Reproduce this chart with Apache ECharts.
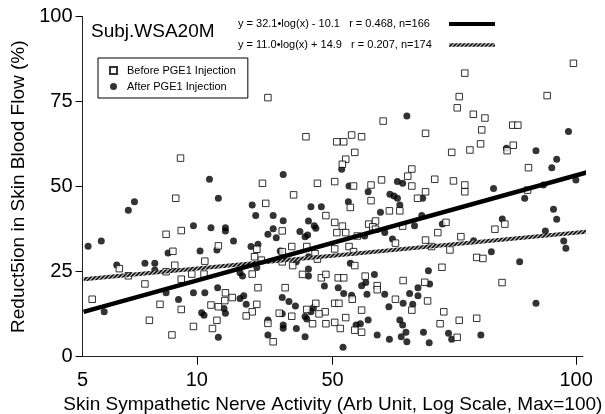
<!DOCTYPE html>
<html>
<head>
<meta charset="utf-8">
<script src="https://cdn.jsdelivr.net/npm/echarts@6/dist/echarts.min.js"></script>
<style>
  html, body { margin: 0; background: #fff; }
  #chart { width: 605px; height: 414px; }
</style>
</head>
<body>
<div id="chart"></div>
<script>
// squares: before PGE1 injection  [nerve activity, reduction %]
const before = [
  [9.06, 58.4], [8.8, 46.6], [9.1, 37.1], [8.3, 36.0], [8.65, 31.0], [8.75, 26.9], [6.25, 25.9], [9.1, 22.8],
  [7.3, 21.4], [5.3, 16.9], [8.0, 15.4], [9.1, 13.9], [7.5, 10.7], [8.6, 6.4], [6.6, 23.8], [8.3, 25.0],
  [15.4, 76.2], [14.9, 51.0], [15.2, 45.1], [11.4, 32.6], [14.4, 31.6], [14.2, 29.4], [14.8, 28.4], [10.5, 28.1],
  [9.7, 24.3], [10.45, 24.3], [14.0, 24.3], [14.5, 20.3], [10.9, 15.2], [11.4, 14.7], [11.9, 18.8], [11.85, 16.5],
  [12.4, 17.4], [14.4, 15.4], [14.0, 13.2], [13.5, 12.0], [11.3, 10.7], [9.8, 8.9], [11.0, 8.3], [15.4, 9.8],
  [15.9, 4.4], [16.5, 12.8],
  [31.0, 69.3], [19.4, 64.7], [23.4, 63.2], [24.4, 63.2], [25.6, 65.2], [27.2, 64.7], [26.1, 60.1], [24.7, 58.1],
  [24.2, 56.6], [20.8, 51.0], [23.1, 51.5], [25.9, 50.2], [28.8, 50.5], [30.7, 52.0], [18.0, 47.6], [28.8, 45.9],
  [25.4, 43.9], [21.9, 41.5], [23.1, 39.5], [24.2, 38.4], [23.4, 36.5], [24.7, 36.5], [28.4, 39.0], [29.6, 39.9],
  [29.1, 38.2], [16.8, 37.0], [26.5, 35.5], [29.6, 37.5], [17.8, 32.4], [16.8, 30.9], [19.5, 32.4], [23.1, 31.7],
  [25.2, 32.4], [25.9, 30.9], [20.5, 30.3], [16.8, 27.9], [20.8, 28.7], [17.9, 26.8], [26.1, 26.8], [19.0, 24.2],
  [21.3, 23.2], [21.9, 24.2], [23.6, 23.2], [24.4, 23.2], [27.8, 23.7], [17.1, 20.3], [29.9, 20.9], [29.9, 19.7],
  [23.1, 15.7], [23.7, 15.7], [25.7, 16.9], [27.2, 13.7], [19.5, 13.9], [20.6, 15.7], [21.8, 13.2], [21.0, 12.6],
  [17.8, 11.9], [20.2, 9.7], [21.9, 9.7], [23.1, 10.1], [23.9, 8.3], [24.7, 11.5], [26.1, 7.8], [27.2, 7.2],
  [49.2, 76.5], [48.6, 73.2], [53.6, 71.3], [40.1, 65.7], [56.4, 66.7], [56.0, 62.6], [47.0, 60.1], [52.5, 60.8],
  [36.9, 55.2], [36.0, 53.1], [42.4, 52.2], [47.5, 51.7], [50.9, 50.5], [50.9, 48.5], [36.9, 50.2], [40.1, 48.5],
  [38.2, 46.6], [32.2, 42.9], [34.3, 42.9], [34.9, 38.4], [45.4, 39.5], [43.2, 36.5], [49.7, 35.3], [40.1, 34.3],
  [33.4, 33.4], [41.6, 32.4], [46.5, 31.4], [54.7, 29.2], [56.8, 28.9], [44.3, 26.3], [35.0, 22.4], [39.9, 21.9],
  [33.4, 16.9], [40.6, 16.4], [36.9, 13.7], [44.8, 13.2], [43.8, 9.7], [49.2, 10.7], [54.7, 11.3], [48.6, 5.7],
  [98.4, 86.3], [83.9, 76.8], [57.5, 70.2], [68.1, 68.1], [70.2, 68.1], [65.8, 60.6], [68.3, 62.2], [74.9, 55.6],
  [74.5, 49.0], [64.9, 39.0], [61.1, 37.5], [63.8, 21.8], [50.9, 83.4]
];

// filled circles: after PGE1 injection
const after = [
  [5.17, 32.5], [5.6, 34.0], [6.85, 45.6], [6.6, 43.1], [8.4, 30.5], [6.15, 27.0], [7.3, 27.5], [7.75, 27.5],
  [7.75, 25.5], [8.3, 18.8], [5.7, 13.2], [8.95, 16.8],
  [10.8, 52.2], [11.4, 46.6], [14.0, 44.6], [14.3, 41.5], [15.9, 41.5], [9.8, 38.5], [10.9, 37.9], [11.9, 37.9],
  [11.9, 37.0], [15.9, 37.6], [15.4, 36.0], [16.2, 35.0], [12.5, 34.0], [13.9, 32.4], [14.5, 33.1], [10.2, 31.1],
  [11.3, 31.4], [16.6, 31.1], [13.0, 24.7], [13.2, 23.7], [14.4, 26.2], [9.8, 18.8], [10.5, 18.8], [11.35, 20.3],
  [13.0, 17.1], [13.3, 17.9], [13.5, 15.4], [11.8, 14.2], [11.9, 12.8], [10.3, 12.9], [10.45, 12.2], [11.4, 5.7],
  [15.4, 10.8], [15.4, 6.4],
  [16.9, 53.6], [24.1, 55.1], [25.2, 50.2], [28.3, 48.5], [25.1, 45.6], [20.0, 44.1], [21.3, 44.1], [30.5, 42.5],
  [16.9, 40.0], [19.7, 39.9], [20.4, 38.5], [20.6, 37.8], [18.7, 36.8], [19.3, 35.3], [19.6, 35.8], [27.7, 35.5],
  [19.7, 29.4], [18.3, 27.9], [25.4, 27.5], [19.7, 25.8], [19.7, 23.7], [21.7, 20.8], [23.6, 20.3], [24.4, 18.6],
  [25.6, 18.1], [27.2, 20.9], [27.9, 21.8], [29.4, 24.2], [28.1, 18.4], [16.8, 17.4], [17.5, 16.2], [18.2, 14.9],
  [20.3, 14.4], [20.0, 13.2], [16.8, 12.6], [19.3, 11.8], [19.5, 11.1], [16.9, 9.3], [16.9, 8.4], [18.3, 8.3],
  [19.3, 5.9], [24.3, 2.8], [26.3, 9.3], [27.0, 9.7], [28.3, 10.8], [29.9, 6.4],
  [35.8, 70.8], [33.8, 51.5], [34.9, 51.0], [32.3, 47.8], [33.1, 47.3], [33.8, 46.6], [34.3, 44.6], [39.4, 46.6],
  [31.3, 36.5], [32.8, 34.6], [37.5, 38.5], [39.2, 41.5], [44.4, 39.0], [53.7, 34.1], [40.8, 25.3], [41.1, 21.4],
  [38.3, 20.3], [36.4, 18.6], [31.3, 18.4], [38.3, 17.9], [37.1, 15.4], [35.0, 15.7], [32.1, 14.7], [34.3, 10.8],
  [34.9, 9.3], [35.6, 7.2], [34.6, 5.9], [35.8, 4.4], [32.2, 5.1], [39.6, 7.2], [41.0, 4.1], [46.1, 6.9],
  [47.0, 5.1], [56.1, 6.4],
  [95.5, 66.2], [78.4, 60.6], [88.9, 58.1], [86.3, 55.6], [60.6, 49.5], [82.0, 50.5], [99.9, 52.0], [73.2, 46.6],
  [87.2, 43.4], [88.9, 40.4], [63.9, 40.5], [83.0, 37.0], [92.8, 34.0], [94.0, 31.9], [59.8, 30.9], [71.0, 27.9],
  [78.4, 15.7], [65.5, 61.3]
];

// regression line end points
const fitX = [5.03, 107.6];
const fitThick = [13.2, 54.3];
const fitHatched = [22.8, 36.8];

const xTickValues = [5, 10, 22.8, 100];
const xTickLabels = ['5', '10', '50', '100'];

const eqThick = 'y = 32.1\u2022log(x) - 10.1   r = 0.468, n=166';
const eqHatched = 'y = 11.0\u2022log(x) + 14.9   r = 0.207, n=174';

const FONT = '"Liberation Sans", Arial, Helvetica, sans-serif';

function hatchPattern() {
  const c = document.createElement('canvas');
  c.width = 4;
  c.height = 4;
  const g = c.getContext('2d');
  g.fillStyle = '#b8b8b8';
  g.fillRect(0, 0, 4, 4);
  g.strokeStyle = '#000';
  g.lineWidth = 1.5;
  g.beginPath();
  g.moveTo(-1, 5); g.lineTo(5, -1);
  g.moveTo(-1, 1); g.lineTo(1, -1);
  g.moveTo(3, 5); g.lineTo(5, 3);
  g.stroke();
  return { image: c, repeat: 'repeat' };
}
const hatch = hatchPattern();

const chart = echarts.init(document.getElementById('chart'));

chart.setOption({
  animation: false,
  textStyle: { fontFamily: FONT, color: '#000' },
  grid: { left: 82.6, right: 22, top: 16.7, bottom: 57.3, outerBoundsMode: 'none' },
  legend: {
    data: ['Before PGE1 Injection', 'After PGE1 Injection'],
    orient: 'vertical',
    left: 98,
    top: 58,
    padding: [7, 12, 6, 11],
    itemGap: 5,
    itemWidth: 7,
    itemHeight: 7,
    borderColor: '#000',
    borderWidth: 1,
    textStyle: { fontFamily: FONT, fontSize: 11, color: '#000', padding: [0, 0, 0, 5] }
  },
  xAxis: {
    type: 'log',
    logBase: 10,
    min: 5,
    max: 104.3,
    name: 'Skin Sympathetic Nerve Activity (Arb Unit, Log Scale, Max=100)',
    nameLocation: 'middle',
    nameGap: 37,
    nameTextStyle: { fontFamily: FONT, fontSize: 19, color: '#000' },
    axisLine: { lineStyle: { color: '#222', width: 1 } },
    axisTick: { customValues: xTickValues.slice(1), length: 8, lineStyle: { color: '#000' } },
    axisLabel: {
      customValues: xTickValues,
      margin: 14,
      fontSize: 20,
      color: '#000',
      formatter: v => {
        const i = xTickValues.findIndex(t => Math.abs(t - v) / t < 1e-3);
        return i >= 0 ? xTickLabels[i] : '';
      }
    },
    splitLine: { show: false },
    minorTick: { show: false }
  },
  yAxis: {
    type: 'value',
    min: 0,
    max: 100,
    interval: 25,
    name: 'Reduct5ion in Skin Blood Flow (%)',
    nameLocation: 'middle',
    nameGap: 54,
    nameTextStyle: { fontFamily: FONT, fontSize: 19, color: '#000' },
    axisLine: { show: true, lineStyle: { color: '#222', width: 1 } },
    axisTick: { show: true, length: 7, lineStyle: { color: '#000' } },
    axisLabel: { margin: 10, fontSize: 20, color: '#000' },
    splitLine: { show: false }
  },
  graphic: [
    { type: 'text', x: 91, y: 32, style: { text: 'Subj.WSA20M', font: '19px ' + FONT, fill: '#000', verticalAlign: 'middle' } },
    { type: 'text', x: 238, y: 24, style: { text: eqThick, font: '11px ' + FONT, fill: '#000', verticalAlign: 'middle' } },
    { type: 'text', x: 238, y: 45, style: { text: eqHatched, font: '11px ' + FONT, fill: '#000', verticalAlign: 'middle' } },
    { type: 'line', shape: { x1: 449, y1: 24, x2: 495, y2: 24 }, style: { stroke: '#000', lineWidth: 4 } },
    { type: 'line', shape: { x1: 449, y1: 45, x2: 495, y2: 45 }, style: { stroke: hatch, lineWidth: 3.5 } }
  ],
  series: [
    {
      name: 'After PGE1 Injection',
      type: 'scatter',
      data: after,
      symbol: 'circle',
      symbolSize: 7,
      itemStyle: { color: '#000' },
      z: 2
    },
    {
      name: 'Before PGE1 Injection',
      type: 'scatter',
      data: before,
      symbol: 'rect',
      symbolSize: 6.5,
      itemStyle: { color: '#fff', borderColor: '#000', borderWidth: 1 },
      z: 3
    },
    {
      type: 'line',
      data: fitX.map((x, i) => [x, fitHatched[i]]),
      symbol: 'none',
      clip: false,
      silent: true,
      lineStyle: { color: hatch, width: 4 },
      z: 4
    },
    {
      type: 'line',
      data: fitX.map((x, i) => [x, fitThick[i]]),
      symbol: 'none',
      clip: false,
      silent: true,
      lineStyle: { color: '#000', width: 4.5 },
      z: 5
    }
  ]
});
</script>
</body>
</html>
